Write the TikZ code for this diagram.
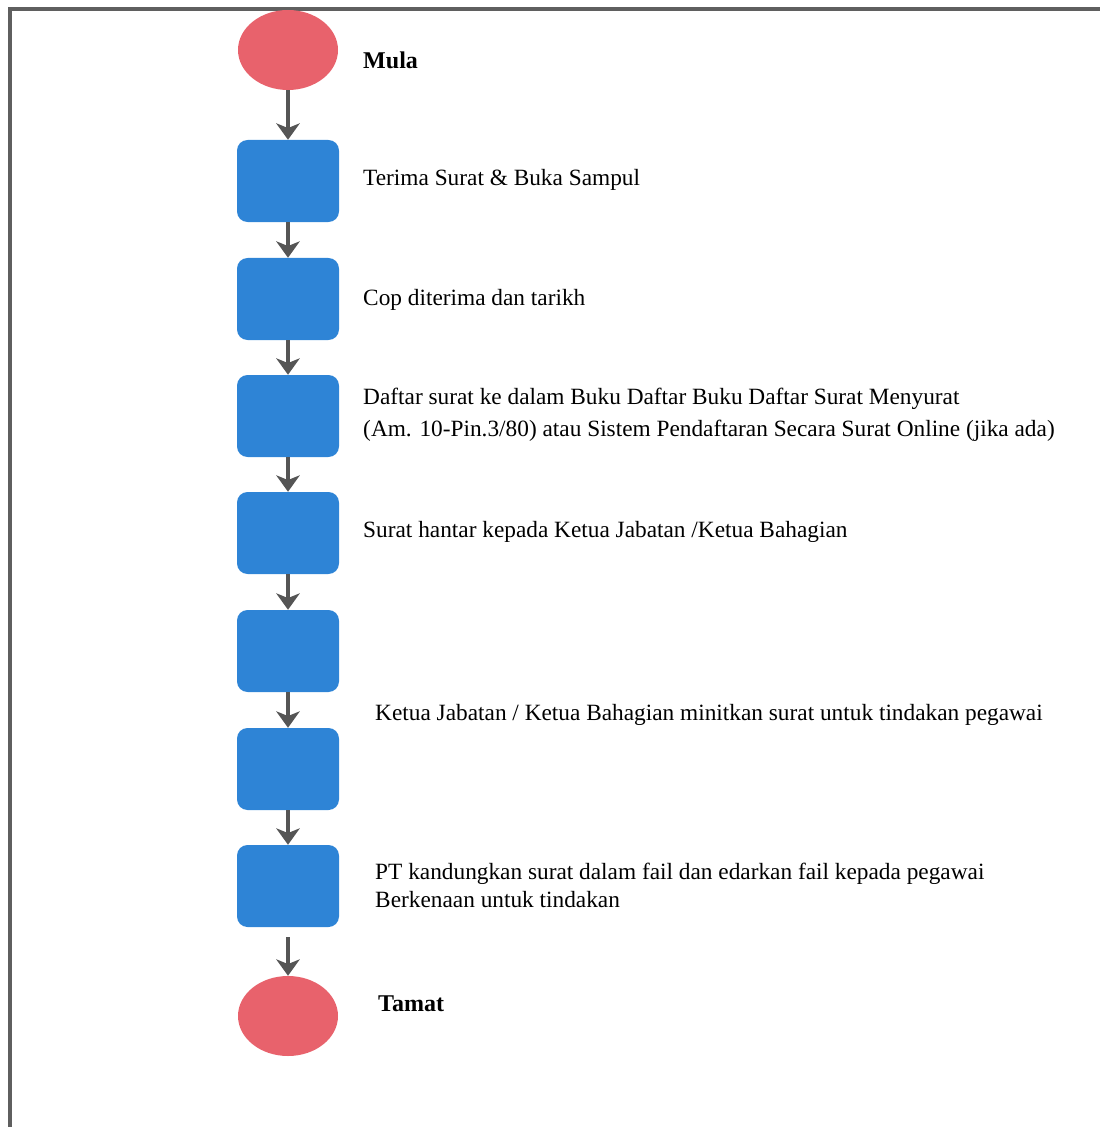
\documentclass[tikz,border=0pt]{standalone}
\usepackage{fontspec}
\setmainfont{Liberation Serif}
\usetikzlibrary{arrows.meta, positioning, shapes.geometric}
\definecolor{startred}{RGB}{232,98,108}
\definecolor{stepblue}{RGB}{46,132,214}
\definecolor{arrowgray}{RGB}{85,85,85}
\definecolor{framegray}{RGB}{95,95,95}

\begin{document}
\begin{tikzpicture}[x=0.03cm, y=-0.03cm,
  terminal/.style={ellipse, fill=startred, minimum width=3cm, minimum height=2.4cm, inner sep=0pt},
  stepbox/.style={rectangle, rounded corners=9pt, fill=stepblue, minimum width=3.06cm, minimum height=2.46cm, inner sep=0pt},
  flow/.style={-{Stealth[length=14pt, width=20pt, inset=4pt]}, line width=4.2pt, arrowgray},
  steptext/.style={anchor=west, inner sep=0pt, font=\fontsize{19.9}{27}\selectfont, align=left},
  endtext/.style={anchor=west, inner sep=0pt, font=\bfseries\fontsize{20.5}{24}\selectfont}]
  \useasboundingbox (0,0) rectangle (1100,1127);
  % frame
  \draw[framegray, line width=3.4pt] (10,1127) -- (10,9) -- (1100,9);
  % shapes
  \node[terminal] (mula) at (288,50) {};
  \node[stepbox] (terima) at (288,181) {};
  \node[stepbox] (cop) at (288,299) {};
  \node[stepbox] (daftar) at (288,416) {};
  \node[stepbox] (hantar) at (288,533) {};
  \node[stepbox] (terimaketua) at (288,651) {};
  \node[stepbox] (minit) at (288,769) {};
  \node[stepbox] (fail) at (288,886) {};
  \node[terminal] (tamat) at (288,1016) {};
  % connectors
  \draw[flow] (mula.south) -- (terima.north);
  \draw[flow] (terima.south) -- (cop.north);
  \draw[flow] (cop.south) -- (daftar.north);
  \draw[flow] (daftar.south) -- (hantar.north);
  \draw[flow] (hantar.south) -- (terimaketua.north);
  \draw[flow] (terimaketua.south) -- (minit.north);
  \draw[flow] (minit.south) -- (fail.north);
  \draw[flow, shorten <=0.3cm] (fail.south) -- (tamat.north);
  % texts
  \node[endtext] (tmula) at (363,60) {Mula};
  \node[steptext] (tterima) at (363,180) {Terima Surat \& Buka Sampul};
  \node[steptext] (tcop) at (363,300) {Cop diterima dan tarikh};
  \node[steptext] (tdaftar) at (363,415) {Daftar surat ke dalam Buku Daftar Buku Daftar Surat Menyurat\\(Am. 10-Pin.3/80) atau Sistem Pendaftaran Secara Surat Online (jika ada)};
  \node[steptext] (thantar) at (363,532) {Surat hantar kepada Ketua Jabatan /Ketua Bahagian};
  \node[steptext] (tminit) at (375,715) {Ketua Jabatan / Ketua Bahagian minitkan surat untuk tindakan pegawai};
  \node[steptext, font=\fontsize{19.9}{24}\selectfont] (tfail) at (375,885) {PT kandungkan surat dalam fail dan edarkan fail kepada pegawai\\Berkenaan untuk tindakan};
  \node[endtext] (ttamat) at (378,1004) {Tamat};
\end{tikzpicture}
\end{document}
